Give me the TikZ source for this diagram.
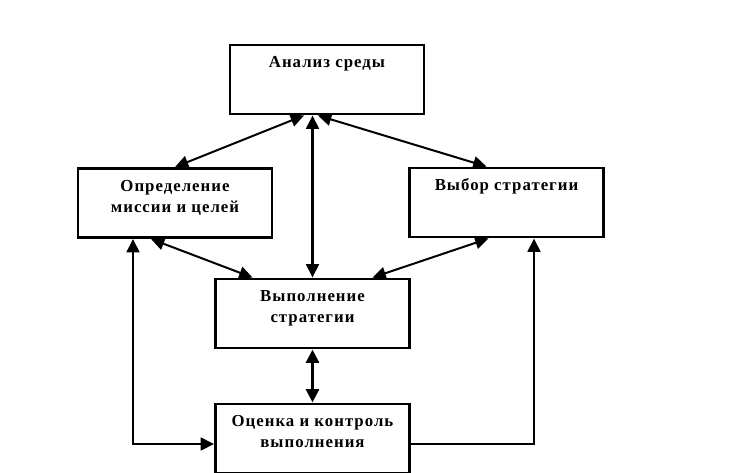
\documentclass[tikz,border=0pt]{standalone}
\usepackage{fontspec}
\setmainfont{Liberation Serif}[LetterSpace=6]
\usetikzlibrary{positioning,arrows.meta,calc}

% text of a box, placed at its top
\newcommand{\boxtext}[1]{\parbox[c][51pt][t]{142pt}{\vspace*{6pt}\centering\strut#1\par}}

\begin{document}
\begin{tikzpicture}[x=0.75pt,y=-0.75pt]
  % some styles
  \tikzset{
    box/.style={
      draw,
      line width=2.2pt,
      inner sep=0pt,
      minimum width=145.5pt,
      minimum height=51.75pt,
      font=\bfseries\fontsize{12.6}{15.5}\selectfont,
    },
    link/.style={{Triangle[length=10pt,width=9.5pt]}-{Triangle[length=10pt,width=9.5pt]},line width=1.5pt},
    uplink/.style={-{Triangle[length=10pt,width=9.5pt]},line width=1.9pt},
  }
  \useasboundingbox (0,0) rectangle (740,472);
  \clip (0,0) rectangle (740,472);
  % the boxes
  \node[box] (analiz) at (327,79.5) {\boxtext{Анализ среды}};
  \node[box] (opr) at (175,203) {\boxtext{Определение\\миссии и целей}};
  \node[box] (vybor) at (506.5,202.5) {\boxtext{Выбор стратегии}};
  \node[box] (vyp) at (312.5,313.5) {\boxtext{Выполнение\\стратегии}};
  \node[box] (ocenka) at (312.5,438.5) {\boxtext{Оценка и контроль\\выполнения}};
  % links from the top box
  \draw[link,line width=1.9pt] (analiz.south -| vyp) -- (vyp.north);
  \draw[link] ($(analiz.south)+(-23,0)$) -- (opr.north);
  \draw[link] ($(analiz.south)+(-9,0)$) -- ($(vybor.north)+(-20,0)$);
  % links to the middle box
  \draw[link] ($(opr.south)+(-24,0)$) -- ($(vyp.north)+(-60,0)$);
  \draw[link] ($(vybor.south)+(-18,0)$) -- ($(vyp.north)+(60,0)$);
  \draw[link,line width=2.6pt] (vyp.south) -- (ocenka.north);
  % feedback lines round the sides
  \draw[link,line width=1.9pt] ($(opr.south)+(-42,0)$) |- ($(ocenka.west)+(0,5.5)$);
  \draw[uplink] ($(ocenka.east)+(0,5.5)$) -| ($(vybor.south)+(27.5,0)$);
\end{tikzpicture}
\end{document}
